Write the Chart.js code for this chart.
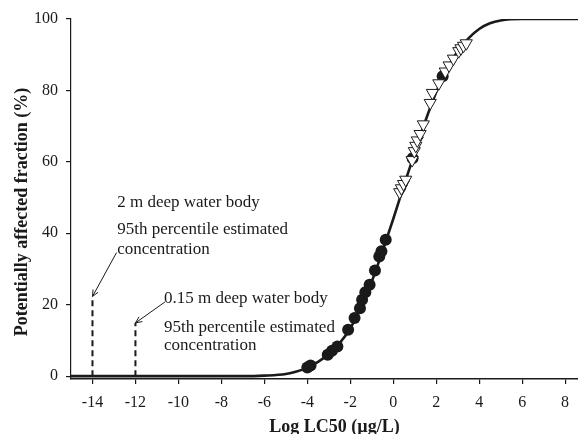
<!DOCTYPE html>
<html><head><meta charset="utf-8">
<script src="https://cdn.jsdelivr.net/npm/chart.js@4"></script>
<style>html,body{margin:0;padding:0;background:#fff;}#c{display:block;}</style>
</head><body>
<canvas id="c" width="578" height="434"></canvas>
<script>
// ---- data ----
const xTicks = [-14,-12,-10,-8,-6,-4,-2,0,2,4,6,8];
const yTicks = [0,20,40,60,80,100];

// fitted species-sensitivity curve (Log LC50 vs % affected)
const curveX = [-15,-7,-6,-5,-4.5,-4,-3.5,-3,-2.5,-2,-1.5,-1,-0.5,0,0.5,1,1.5,2,2.5,3,3.5,4,4.5,5,6,8.6];
const curveY = [0,0,0.15,0.6,1.3,2.4,4.0,6.2,9.2,13.4,19.3,26.5,35.0,44.0,53.5,62.5,71.5,79.5,86.0,91.0,94.6,97.2,98.8,99.6,100,100];

// filled circles
const dotX = [-4.0,-3.85,-3.05,-2.85,-2.6,-2.1,-1.8,-1.55,-1.45,-1.3,-1.1,-0.85,-0.65,-0.55,-0.35,0.9,2.3];
const dotY = [2.4,3.0,6.0,7.1,8.3,13.0,16.3,19.0,21.4,23.5,25.6,29.6,33.5,35.0,38.2,61.0,84.0];

// open down-pointing triangles
const triX = [0.30,0.38,0.48,0.58,0.88,0.98,1.05,1.12,1.25,1.40,1.72,1.82,2.12,2.42,2.60,2.80,3.05,3.15,3.27,3.40];
const triY = [51.5,52.6,53.8,55.0,60.5,63.0,64.5,66.0,67.8,70.5,76.5,79.3,82.0,85.3,87.0,88.9,91.0,91.8,92.5,93.2];

// 95th percentile estimated concentrations (dashed drop lines)
const dropX = [-14,-12];
const dropTop = [22.3,14.9];

// annotation arrows (from label to top of drop line)
const arrowFromX = [-12.88,-10.62];
const arrowFromY = [34.6,20.8];

// annotation texts
const labelLines = [
  ["2 m deep water body","95th percentile estimated","concentration"],
  ["0.15 m deep water body","95th percentile estimated","concentration"]
];
const xTitle = "Log LC50 (\u00b5g/L)";
const yTitle = "Potentially affected fraction (%)";

// ---- placement (not data) ----
const labelAnchorX = [-12.85,-10.67];
const labelBaseY = [[47.4,39.7,34.2],[20.4,12.4,7.3]];

const INK = '#1a1a1a';
const SERIF = "'Liberation Serif','Times New Roman',serif";

const pts = (xs, ys) => xs.map((x,i)=>({x, y: ys[i]}));

const datasets = [
  { type:'scatter', data: pts(triX,triY), pointStyle:'triangle', rotation:180, radius:7,
    backgroundColor:'#ffffff', borderColor:INK, borderWidth:1, order:0 },
  { type:'scatter', data: pts(dotX,dotY), pointStyle:'circle', radius:6,
    backgroundColor:INK, borderColor:INK, borderWidth:0, order:1 },
  { type:'line', data: pts(curveX,curveY), borderColor:INK, borderWidth:2.6, pointRadius:0,
    cubicInterpolationMode:'monotone', fill:false, order:2 }
];
dropX.forEach((x,i)=>{
  datasets.push({ type:'line', data:[{x, y:0},{x, y:dropTop[i]}], borderColor:INK, borderWidth:2,
    borderDash:[6,4], pointRadius:0, fill:false, order:3 });
});
const arrowIdx = [];
dropX.forEach((x,i)=>{
  arrowIdx.push(datasets.length);
  datasets.push({ type:'line', data:[{x:arrowFromX[i], y:arrowFromY[i]},{x, y:dropTop[i]}], borderColor:INK,
    borderWidth:1, pointRadius:0, fill:false, order:3 });
});

const decor = {
  id:'decor',
  afterDatasetsDraw(chart){
    const ctx = chart.ctx, xs = chart.scales.x, ys = chart.scales.y;
    ctx.save();
    // arrow heads
    ctx.strokeStyle = INK; ctx.lineWidth = 1;
    arrowIdx.forEach(di=>{
      const m = chart.getDatasetMeta(di).data;
      const a = m[0], b = m[1];
      const ang = Math.atan2(b.y-a.y, b.x-a.x);
      const L = 7, w = 0.42;
      ctx.beginPath();
      ctx.moveTo(b.x - L*Math.cos(ang-w), b.y - L*Math.sin(ang-w));
      ctx.lineTo(b.x, b.y);
      ctx.lineTo(b.x - L*Math.cos(ang+w), b.y - L*Math.sin(ang+w));
      ctx.stroke();
    });
    // annotation text
    ctx.fillStyle = INK;
    ctx.font = "17px " + SERIF;
    ctx.textAlign = 'left'; ctx.textBaseline = 'alphabetic';
    labelLines.forEach((lines,i)=>{
      lines.forEach((t,j)=>{
        ctx.fillText(t, xs.getPixelForValue(labelAnchorX[i]), ys.getPixelForValue(labelBaseY[i][j]));
      });
    });
    // axis titles
    ctx.font = "bold 18px " + SERIF;
    ctx.textAlign = 'center';
    ctx.fillText(xTitle, 334.5, 431.5);
    ctx.translate(27, 212);
    ctx.rotate(-Math.PI/2);
    ctx.fillText(yTitle, 0, 0);
    ctx.restore();
  }
};

new Chart(document.getElementById('c'), {
  data: { datasets },
  options: {
    responsive:false, animation:false, devicePixelRatio:1,
    layout:{ autoPadding:false, padding:{ left:0, right:0, top:19, bottom:0 } },
    plugins:{ legend:{display:false}, tooltip:{enabled:false} },
    scales:{
      x:{ type:'linear', min:-15, max:8.6,
        afterBuildTicks(s){ s.ticks = xTicks.map(v=>({value:v})); },
        afterFit(s){ s.height = 55; s.paddingLeft = 0; s.paddingRight = 0; },
        grid:{ display:true, drawOnChartArea:false, drawTicks:true, tickLength:5, color:INK, lineWidth:1.2 },
        border:{ display:true, color:INK, width:1.6 },
        ticks:{ color:INK, font:{ family:SERIF, size:16 }, padding:9, maxRotation:0, autoSkip:false }
      },
      y:{ type:'linear', min:-0.8, max:100,
        afterBuildTicks(s){ s.ticks = yTicks.map(v=>({value:v})); },
        afterFit(s){ s.width = 71; s.paddingTop = 0; s.paddingBottom = 0; },
        grid:{ display:true, drawOnChartArea:false, drawTicks:true, tickLength:5, color:INK, lineWidth:1.2 },
        border:{ display:true, color:INK, width:1.2 },
        ticks:{ color:INK, font:{ family:SERIF, size:16 }, padding:8, autoSkip:false }
      }
    }
  },
  plugins:[decor]
});
</script>
</body></html>
